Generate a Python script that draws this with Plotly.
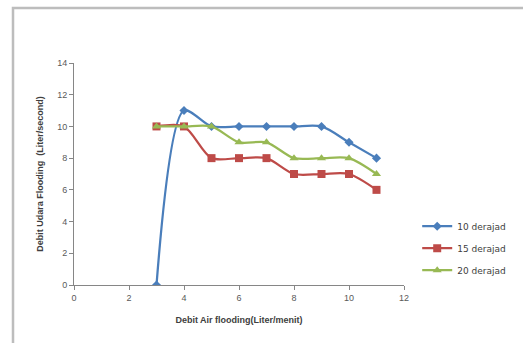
import plotly.graph_objects as go

x_vals = [3, 4, 5, 6, 7, 8, 9, 10, 11]
s10 = [0, 11, 10, 10, 10, 10, 10, 9, 8]
s15 = [10, 10, 8, 8, 8, 7, 7, 7, 6]
s20 = [10, 10, 10, 9, 9, 8, 8, 8, 7]
names = ["10 derajad", "15 derajad", "20 derajad"]
colors = ["#4A7EBB", "#BE4B48", "#98B954"]
symbols = ["diamond", "square", "triangle-up"]
sizes = [7, 8, 8]

W, H = 523, 343
L, R, T, B = 74, 119, 63, 58

fig = go.Figure()
for i, ys in enumerate([s10, s15, s20]):
    fig.add_trace(go.Scatter(
        x=x_vals, y=ys, name=names[i], mode="lines+markers",
        line=dict(color=colors[i], width=2.25, shape="spline", smoothing=0.8),
        marker=dict(symbol=symbols[i], size=sizes[i], color=colors[i]),
        legendgroup=str(i),
    ))

axis_common = dict(
    showline=True, linecolor="#868686", linewidth=1,
    ticks="outside", ticklen=4, tickcolor="#868686",
    tickfont=dict(family="Liberation Sans, Arial", size=9, color="#595959"),
    showgrid=False, zeroline=False,
)

fig.update_layout(
    width=W, height=H,
    margin=dict(l=L, r=R, t=T, b=B),
    paper_bgcolor="white", plot_bgcolor="white",
    xaxis=dict(range=[0, 12], dtick=2, **axis_common,
               title=dict(text="<b>Debit Air flooding(Liter/menit)</b>",
                          font=dict(family="Liberation Sans, Arial", size=9, color="#404040"),
                          standoff=14)),
    yaxis=dict(range=[0, 14], dtick=2, **axis_common,
               title=dict(text="<b>Debit Udara Flooding  (Liter/second)</b>",
                          font=dict(family="Liberation Sans, Arial", size=9, color="#404040"),
                          standoff=12)),
    legend=dict(x=1.04, y=0.33, xanchor="left", yanchor="top",
                font=dict(family="DejaVu Sans", size=9, color="#404040"),
                tracegroupgap=3, itemwidth=30, bgcolor="rgba(0,0,0,0)"),
    showlegend=True,
)

# outer chart border
fig.add_shape(type="rect", xref="paper", yref="paper",
              x0=(13 - L) / (W - L - R), x1=(W + 5 - L) / (W - L - R),
              y0=-(B + 5) / (H - T - B), y1=(H - B - 8) / (H - T - B),
              line=dict(color="#BDBDBD", width=2.5), fillcolor="rgba(0,0,0,0)", layer="below")

fig.write_html("out.html")
